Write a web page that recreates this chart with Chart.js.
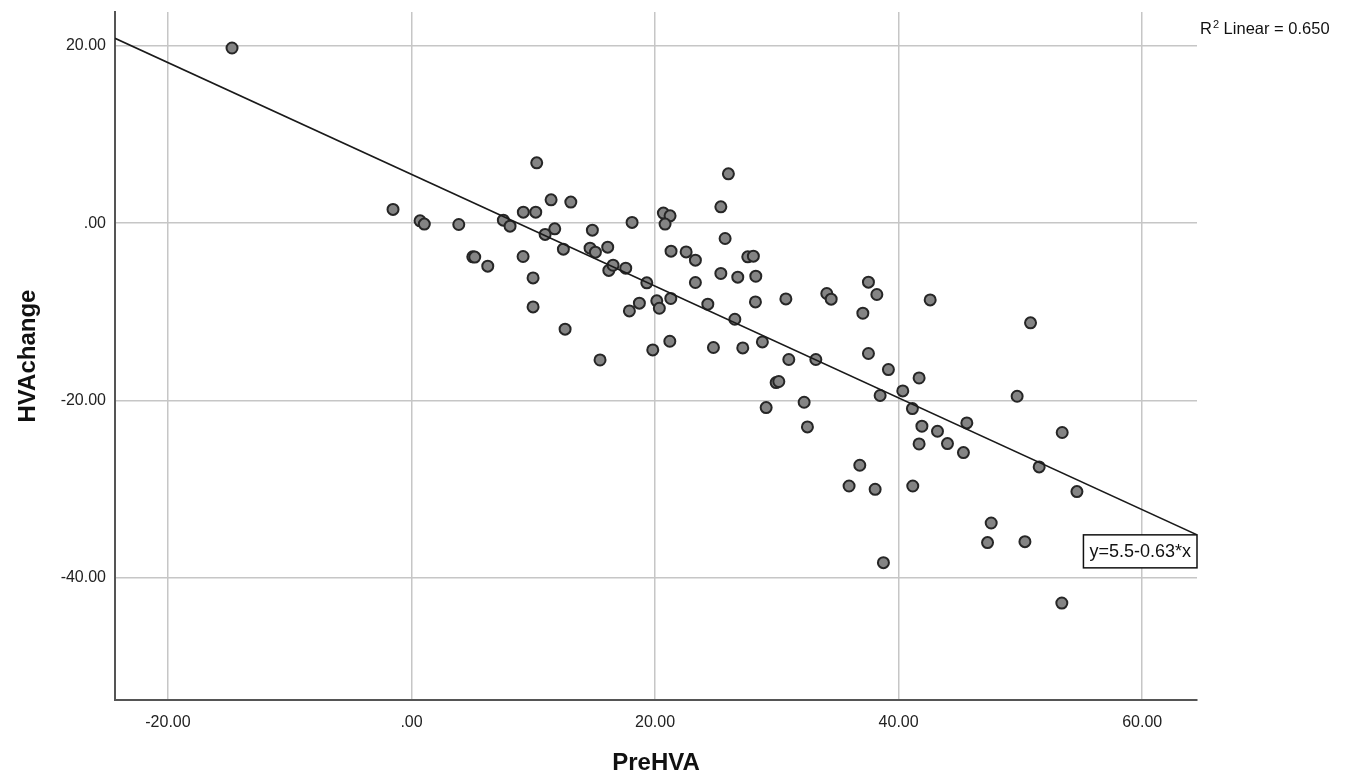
<!DOCTYPE html>
<html>
<head>
<meta charset="utf-8">
<script src="https://cdn.jsdelivr.net/npm/chart.js@4"></script>
<style>
  html, body { margin: 0; padding: 0; background: #fff; }
</style>
</head>
<body>
<canvas id="scatterChart" width="1351" height="780"></canvas>
<script>
// values
const preHVA = [
  -14.74, -1.52, 0.70, 1.05, 3.88, 5.03, 5.19, 6.26, 7.54, 8.09,
  9.18, 10.20, 10.28, 11.46, 13.08, 9.16, 9.98, 9.98, 10.97, 11.76,
  12.47, 12.61, 14.66, 15.10, 14.85, 16.11, 16.20, 16.55, 17.59, 18.11,
  15.48, 19.32, 17.89, 18.71, 20.14, 20.35, 19.81, 20.68, 21.23, 20.82,
  21.31, 21.29, 21.21, 22.55, 23.31, 23.31, 24.33, 24.79, 26.02, 25.40,
  25.75, 25.40, 26.79, 26.55, 27.20, 27.61, 28.07, 28.27, 28.24, 28.81,
  29.94, 30.16, 30.74, 29.12, 30.98, 33.20, 32.24, 32.51, 34.10, 34.46,
  37.52, 38.21, 37.06, 37.52, 39.16, 41.68, 42.59, 40.34, 38.48, 41.13,
  41.91, 41.68, 43.19, 44.01, 45.32, 45.60, 49.73, 50.83, 51.54, 53.43,
  53.40, 54.64, 47.60, 47.30, 50.37, 38.75, 35.93, 38.07, 36.81, 41.16
];
const hvaChange = [
  19.74, 1.55, 0.26, -0.11, -0.15, -3.80, -3.83, -4.85, 0.34, -0.34,
  1.24, 1.24, 6.80, 2.63, 2.37, -3.76, -6.17, -9.44, -1.27, -0.64,
  -2.93, -11.95, -2.82, -3.27, -0.79, -2.71, -5.33, -4.74, -5.07, 0.08,
  -15.42, -6.73, -9.89, -9.02, -8.76, -9.59, -14.29, 1.13, 0.82, -0.11,
  -3.16, -8.49, -13.31, -3.24, -4.17, -6.69, -9.13, -14.02, 5.56, 1.84,
  -1.73, -5.67, -6.09, -10.83, -14.06, -3.80, -3.72, -5.98, -8.88, -13.39,
  -17.97, -17.85, -8.54, -20.79, -15.37, -15.37, -20.19, -22.97, -7.93, -8.57,
  -6.65, -8.04, -10.15, -14.69, -16.50, -17.45, -8.65, -18.91, -19.43, -20.90,
  -22.89, -24.89, -23.46, -24.85, -25.86, -22.52, -19.51, -11.24, -27.48, -23.60,
  -42.82, -30.26, -33.80, -36.01, -35.90, -38.27, -29.63, -30.00, -27.29, -29.63
];
const xTicks = [-20, 0, 20, 40, 60];
const yTicks = [20, 0, -20, -40];
const xRange = [-24.35, 64.5];
const yRange = [-53.75, 23.8];
const fitIntercept = 5.5;
const fitSlope = -0.63;
const rSquared = 0.650;

const fontFamily = "'Liberation Sans', Arial, sans-serif";

function spssFormat(v) {
    return v.toFixed(2).replace(/^(-?)0\./, '$1.');
}

const points = preHVA.map((x, i) => ({ x: x, y: hvaChange[i] }));
const fitLine = xRange.map(x => ({ x: x, y: fitIntercept + fitSlope * x }));

const fitLabels = {
    id: 'fitLabels',
    afterDatasetsDraw(chart) {
        const ctx = chart.ctx;
        const xs = chart.scales.x, ys = chart.scales.y;
        const area = chart.chartArea;

        // equation box hanging off the end of the line
        const ex = xs.getPixelForValue(xRange[1]);
        const ey = ys.getPixelForValue(fitIntercept + fitSlope * xRange[1]);
        const eqText = 'y=' + fitIntercept + (fitSlope < 0 ? '-' : '+') + Math.abs(fitSlope) + '*x';
        ctx.save();
        ctx.font = '18px ' + fontFamily;
        const tw = ctx.measureText(eqText).width;
        const bw = tw + 12, bh = 33;
        ctx.fillStyle = '#fff';
        ctx.fillRect(ex - bw, ey, bw, bh);
        ctx.strokeStyle = '#111';
        ctx.lineWidth = 1.5;
        ctx.strokeRect(ex - bw, ey, bw, bh);
        ctx.fillStyle = '#111';
        ctx.textBaseline = 'middle';
        ctx.fillText(eqText, ex - bw + 6, ey + bh / 2 + 1);

        // R squared in the top right corner
        const rx = area.right + 3, ry = 29;
        ctx.font = '16.5px ' + fontFamily;
        ctx.textBaseline = 'alphabetic';
        ctx.fillText('R', rx, ry + 5);
        let w = ctx.measureText('R').width;
        ctx.font = '11px ' + fontFamily;
        ctx.fillText('2', rx + w + 1, ry - 1);
        w += ctx.measureText('2').width + 1;
        ctx.font = '16.5px ' + fontFamily;
        ctx.fillText(' Linear = ' + rSquared.toFixed(3), rx + w, ry + 5);
        ctx.restore();
    }
};

const ctx = document.getElementById('scatterChart').getContext('2d');
const chart = new Chart(ctx, {
    type: 'scatter',
    data: {
        datasets: [{
            type: 'line',
            data: fitLine,
            borderColor: '#1a1a1a',
            borderWidth: 1.6,
            pointRadius: 0,
            fill: false,
            order: 0
        }, {
            data: points,
            backgroundColor: '#848484',
            borderColor: '#262626',
            borderWidth: 2,
            pointRadius: 5.5,
            order: 1
        }]
    },
    options: {
        responsive: false,
        animation: false,
        layout: { padding: { top: 12, right: 154, left: 0, bottom: 0 } },
        plugins: {
            legend: { display: false },
            tooltip: { enabled: false }
        },
        scales: {
            x: {
                type: 'linear',
                min: xRange[0],
                max: xRange[1],
                afterBuildTicks: scale => { scale.ticks = xTicks.map(v => ({ value: v })); },
                afterFit: scale => {
                    scale.height = 80;
                    scale.paddingLeft = 0;
                    scale.paddingRight = 0;
                },
                ticks: {
                    padding: 13,
                    color: '#222',
                    font: { family: fontFamily, size: 16 },
                    callback: v => spssFormat(v)
                },
                grid: { color: '#c6c6c6', lineWidth: 1.5, drawTicks: false },
                border: { display: true, color: '#555', width: 2 },
                title: {
                    display: true,
                    text: 'PreHVA',
                    color: '#111',
                    font: { family: fontFamily, size: 24, weight: 'bold' },
                    padding: { top: 0, bottom: 2 }
                }
            },
            y: {
                type: 'linear',
                min: yRange[0],
                max: yRange[1],
                afterBuildTicks: scale => { scale.ticks = yTicks.map(v => ({ value: v })); },
                afterFit: scale => {
                    scale.width = 115;
                    scale.paddingTop = 0;
                    scale.paddingBottom = 0;
                },
                ticks: {
                    padding: 9,
                    color: '#222',
                    font: { family: fontFamily, size: 16 },
                    callback: v => spssFormat(v)
                },
                grid: { color: '#c6c6c6', lineWidth: 1.5, drawTicks: false },
                border: { display: true, color: '#555', width: 2 },
                title: {
                    display: true,
                    text: 'HVAchange',
                    color: '#111',
                    font: { family: fontFamily, size: 24, weight: 'bold' },
                    padding: { top: 14, bottom: 0 }
                }
            }
        }
    },
    plugins: [fitLabels]
});
</script>
</body>
</html>
